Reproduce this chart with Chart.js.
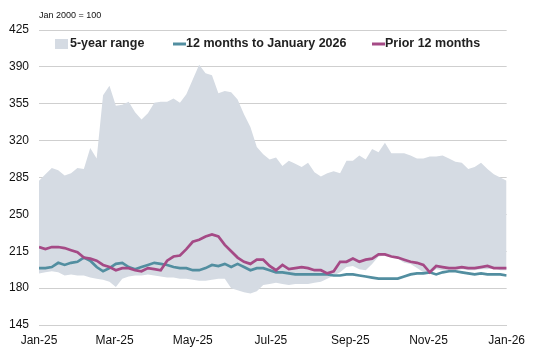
<!DOCTYPE html>
<html>
<head>
<meta charset="utf-8">
<script src="https://cdn.jsdelivr.net/npm/chart.js@4/dist/chart.umd.min.js"></script>
<style>
  html, body { margin: 0; padding: 0; background: #fff; }
  #wrap { width: 533px; height: 348px; position: relative; }
</style>
</head>
<body>
<div id="wrap"><canvas id="chart"></canvas></div>
<script>
// days since 1 Jan 2025, every 5 days
const days = [0,5,10,15,20,25,30,35,40,45,50,55,60,65,70,75,80,85,90,95,
  100,105,110,115,120,125,130,135,140,145,150,155,160,165,170,175,180,185,190,195,
  200,205,210,215,220,225,230,235,240,245,250,255,260,265,270,275,280,285,290,295,
  300,305,310,315,320,325,330,335,340,345,350,355,360,365]

const tickDays = [0, 59, 120, 181, 243, 304, 365]
const tickLabels = ['Jan-25', 'Mar-25', 'May-25', 'Jul-25', 'Sep-25', 'Nov-25', 'Jan-26']

const rangeMin = [194,195,196,195,192,193,192,192,190,189,188,186,181,189,191,192,192,193,192,191,
  190,190,189,189,188,187,187,188,189,189,180,178,176,175,177,183,184,185,184,183,
  184,184,184,185,186,189,192,195,200,201,198,197,203,210,211,211,208,204,203,199,
  195,194,198,197,197,197,198,197,197,198,198,199,197,197]

const rangeMax = [282,288,294,292,287,289,294,293,313,303,363,372,353,354,357,347,340,346,356,357,
  357,360,356,364,378,392,384,382,365,367,366,359,345,333,314,307,302,304,296,301,
  298,295,299,290,286,289,291,289,301,301,306,302,312,309,318,308,308,308,306,303,
  303,305,305,306,303,300,299,293,295,299,293,288,285,282]

const last12 = [199,199,200,204,202,204,205,209,206,200,196,199,203,204,200,198,200,202,204,203,
  202,200,199,199,197,197,199,202,201,203,200,203,200,197,199,199,197,195,195,194,
  193,193,193,193,193,193,192,192,193,193,192,191,190,189,189,189,189,191,193,194,
  194,195,193,195,196,196,195,194,193,194,193,193,193,192]

const prior12 = [219,217,219,219,218,216,214,209,208,206,202,200,197,199,199,197,196,199,198,197,
  206,210,211,217,224,226,229,231,229,221,215,209,205,203,207,207,201,197,202,198,
  199,200,199,197,197,194,196,205,205,208,205,207,208,212,212,210,209,207,205,204,
  202,195,201,200,199,199,200,199,199,200,201,199,199,199]

const rangeColor = '#d5dbe3'
const tealColor = '#528ea0'
const pinkColor = '#a54a86'
const gridColor = '#cfcfcf'
const font = 'Arial, "Liberation Sans", sans-serif'

Chart.defaults.font.family = font
Chart.defaults.color = '#111'

const pts = arr => arr.map((v, i) => ({ x: days[i], y: v }))

// legend + unit note drawn over the plot, like the original
const overlay = {
  id: 'overlay',
  afterDraw(chart) {
    const c = chart.ctx
    c.save()
    c.fillStyle = '#111'
    c.font = '9px ' + font
    c.textBaseline = 'middle'
    c.fillText('Jan 2000 = 100', 39, 16)

    const y = 44
    c.font = 'bold 12.5px ' + font
    c.fillStyle = rangeColor
    c.fillRect(55, y - 5, 13, 10)
    c.fillStyle = '#222'
    c.fillText('5-year range', 70, y)

    c.lineWidth = 3
    c.strokeStyle = tealColor
    c.beginPath(); c.moveTo(173, y); c.lineTo(186, y); c.stroke()
    c.fillText('12 months to January 2026', 186, y)

    c.strokeStyle = pinkColor
    c.beginPath(); c.moveTo(372, y); c.lineTo(385, y); c.stroke()
    c.fillText('Prior 12 months', 385, y)
    c.restore()
  }
}

new Chart(document.getElementById('chart'), {
  type: 'line',
  data: {
    datasets: [
      { label: 'min', data: pts(rangeMin), borderWidth: 0, pointRadius: 0, fill: false,
        tension: 0, order: 3 },
      { label: '5-year range', data: pts(rangeMax), borderWidth: 0, pointRadius: 0,
        fill: '-1', backgroundColor: rangeColor, tension: 0, order: 2 },
      { label: '12 months to January 2026', data: pts(last12), borderColor: tealColor,
        borderWidth: 2.7, pointRadius: 0, fill: false, tension: 0, order: 1 },
      { label: 'Prior 12 months', data: pts(prior12), borderColor: pinkColor,
        borderWidth: 2.7, pointRadius: 0, fill: false, tension: 0, order: 0 }
    ]
  },
  options: {
    responsive: true,
    maintainAspectRatio: false,
    animation: false,
    layout: { padding: { top: 30, right: 21, bottom: 0, left: 0 } },
    plugins: { legend: { display: false }, tooltip: { enabled: false } },
    scales: {
      x: {
        type: 'linear', min: 0, max: 365,
        grid: { display: false, drawTicks: false },
        border: { display: true, color: gridColor, width: 1 },
        afterBuildTicks: axis => { axis.ticks = tickDays.map(v => ({ value: v })) },
        afterFit: scale => { scale.height = 23 },
        ticks: {
          autoSkip: false, maxRotation: 0, padding: 8,
          font: { size: 12 }, color: '#111',
          callback: (v) => tickLabels[tickDays.indexOf(v)]
        }
      },
      y: {
        min: 145, max: 425,
        grid: { color: gridColor, drawTicks: false, lineWidth: 1 },
        border: { display: false },
        afterFit: scale => { scale.width = 39 },
        ticks: { stepSize: 35, padding: 10, font: { size: 12 }, color: '#111' }
      }
    }
  },
  plugins: [overlay]
})
</script>
</body>
</html>
